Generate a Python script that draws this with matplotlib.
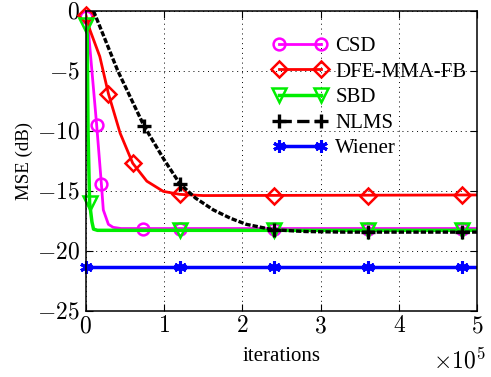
import matplotlib
matplotlib.use("Agg")
import matplotlib.pyplot as plt
from matplotlib.lines import Line2D
from matplotlib.ticker import FuncFormatter, MultipleLocator

plt.rcParams['font.family'] = ['Liberation Serif', 'DejaVu Serif']
plt.rcParams['mathtext.fontset'] = 'cm'

# === Data: iterations vs MSE (dB) ===
csd_x = [0, 3000, 14000, 20000, 22500, 29000, 35000, 45000, 500000]
csd_y = [-0.5, -1.3, -9.5, -14.4, -16.6, -17.8, -18.05, -18.15, -18.15]
csd_mark_x = [0, 14000, 20000, 73500, 120000, 240000, 360000, 480000]
csd_mark_y = [-0.5, -9.5, -14.4, -18.15, -18.15, -18.15, -18.15, -18.15]

dfe_x = [0, 5500, 18000, 29000, 44000, 60000, 78000, 99000, 120000, 150000, 500000]
dfe_y = [-0.3, -1.6, -3.8, -6.9, -10.2, -12.7, -14.2, -15.05, -15.3, -15.4, -15.35]
dfe_mark_x = [0, 29000, 60000, 120000, 240000, 360000, 480000]
dfe_mark_y = [-0.3, -6.9, -12.7, -15.3, -15.4, -15.4, -15.35]

sbd_x = [0, 2000, 3000, 5000, 8000, 10000, 15000, 500000]
sbd_y = [-1.2, -2.0, -10.0, -16.0, -17.6, -18.2, -18.3, -18.3]
sbd_mark_x = [0, 5000, 120000, 240000, 360000, 480000]
sbd_mark_y = [-1.2, -16.0, -18.3, -18.3, -18.3, -18.3]

nlms_x = [10000, 41000, 74500, 100000, 120000, 140000, 163000, 185000, 205000,
          239000, 280000, 330000, 500000]
nlms_y = [0, -5.0, -9.6, -12.4, -14.4, -15.6, -16.6, -17.3, -17.8,
          -18.25, -18.4, -18.45, -18.45]
nlms_mark_x = [74500, 120000, 240000, 360000, 480000]
nlms_mark_y = [-9.6, -14.4, -18.25, -18.45, -18.45]

wiener_x = [0, 500000]
wiener_y = [-21.4, -21.4]
wiener_mark_x = [0, 120000, 240000, 360000, 480000]
wiener_mark_y = [-21.4, -21.4, -21.4, -21.4, -21.4]

labels = ["CSD", "DFE-MMA-FB", "SBD", "NLMS", "Wiener"]

# === Styles ===
asterisk = (6, 2, 0)
styles = [
    dict(color="#ff00ff", lw=2.0, marker="o", ms=8.5, mew=1.8, ls="-"),
    dict(color="#ff0000", lw=2.0, marker="D", ms=8.0, mew=1.8, ls="-"),
    dict(color="#00ee00", lw=2.5, marker="v", ms=10, mew=1.8, ls="-"),
    dict(color="black", lw=2.4, marker="+", ms=10, mew=2.4, ls=(0, (1.6, 0.6))),
    dict(color="#0000ff", lw=2.5, marker=asterisk, ms=9, mew=2.2, ls="-"),
]
series = [
    (csd_x, csd_y, csd_mark_x, csd_mark_y),
    (dfe_x, dfe_y, dfe_mark_x, dfe_mark_y),
    (sbd_x, sbd_y, sbd_mark_x, sbd_mark_y),
    (nlms_x, nlms_y, nlms_mark_x, nlms_mark_y),
    (wiener_x, wiener_y, wiener_mark_x, wiener_mark_y),
]

fig = plt.figure(figsize=(4.91, 3.77), dpi=100)
ax = fig.add_axes([0.1745, 0.176, 0.798, 0.795])

handles = []
for (x, y, mx, my), st in zip(series, styles):
    ax.plot(x, y, color=st["color"], lw=st["lw"], ls=st["ls"], clip_on=True)
    ax.plot(mx, my, ls="none", marker=st["marker"], ms=st["ms"], mew=st["mew"],
            mec=st["color"], mfc="none", clip_on=False)
    legend_ls = "--" if st["ls"] != "-" else "-"
    handles.append(Line2D([], [], color=st["color"], lw=st["lw"], ls=legend_ls,
                          marker=st["marker"], ms=st["ms"], mew=st["mew"],
                          mec=st["color"], mfc="none"))

ax.set_xlim(0, 500000)
ax.set_ylim(-25, 0)
ax.xaxis.set_major_locator(MultipleLocator(100000))
ax.yaxis.set_major_locator(MultipleLocator(5))
ax.xaxis.set_major_formatter(FuncFormatter(lambda v, p: f"${v / 1e5:g}$"))
ax.yaxis.set_major_formatter(FuncFormatter(lambda v, p: f"${v:g}$"))

ax.grid(True, color="black", ls=(0, (1, 4)), lw=0.7)
ax.tick_params(direction="in", length=5, width=0.8, top=True, right=True,
               labelsize=17, pad=4)
for sp in ax.spines.values():
    sp.set_linewidth(1.1)

ax.set_ylabel("MSE (dB)", fontsize=13.6, labelpad=3)
ax.set_xlabel("iterations", fontsize=15, labelpad=7)
fig.text(0.988, 0.043, r"$\times10^5$", fontsize=17, ha="right", va="center")

ax.legend(handles, labels, loc="upper left", bbox_to_anchor=(0.478, 0.915),
          frameon=False, fontsize=15, numpoints=2, handlelength=2.6,
          handletextpad=0.4, labelspacing=0.29, borderpad=0, borderaxespad=0)

fig.savefig("out.png", dpi=100)
